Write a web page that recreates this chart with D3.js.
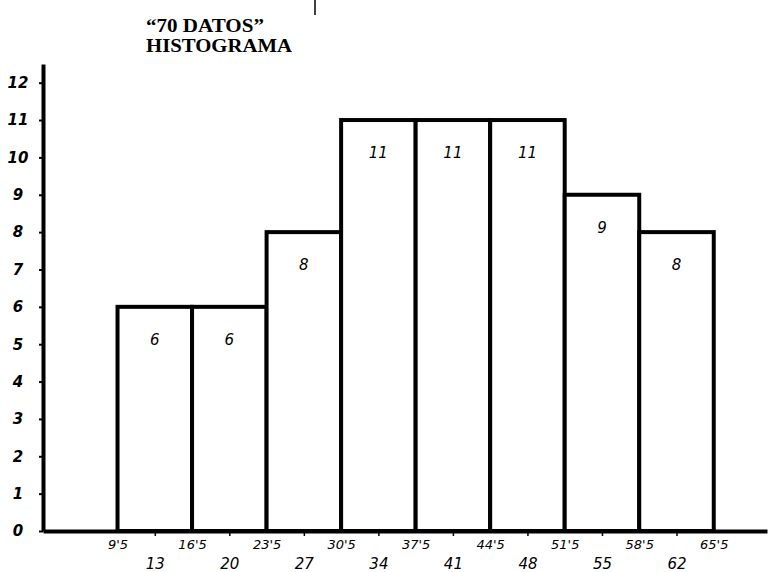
<!DOCTYPE html>
<html>
<head>
<meta charset="utf-8">
<script src="https://cdn.jsdelivr.net/npm/d3@7"></script>
<style>
  html, body { margin: 0; padding: 0; background: #fff; }
  svg { display: block; }
  .hand { font-family: "DejaVu Sans", sans-serif; font-style: italic; fill: #000; }
  .title { font-family: "Liberation Serif", "DejaVu Serif", "Times New Roman", serif; font-weight: bold; font-size: 19px; fill: #000; }
</style>
</head>
<body>
<svg id="chart" width="768" height="572"></svg>
<script>
// ---- data ----
const titleLines = ["\u201c70 DATOS\u201d", "HISTOGRAMA"];
const lowerBounds = [9.5, 16.5, 23.5, 30.5, 37.5, 44.5, 51.5, 58.5];
const upperBounds = [16.5, 23.5, 30.5, 37.5, 44.5, 51.5, 58.5, 65.5];
const frequencies = [6, 6, 8, 11, 11, 11, 9, 8];
const classMarks = [13, 20, 27, 34, 41, 48, 55, 62];
const boundaries = [9.5, 16.5, 23.5, 30.5, 37.5, 44.5, 51.5, 58.5, 65.5];
const boundaryLabels = ["9'5", "16'5", "23'5", "30'5", "37'5", "44'5", "51'5", "58'5", "65'5"];
const yTicks = [0, 1, 2, 3, 4, 5, 6, 7, 8, 9, 10, 11, 12];

const svg = d3.select("#chart");

const x = d3.scaleLinear().domain([2.5, 70.5]).range([43, 767]);
const y = d3.scaleLinear().domain([0, 12.5]).range([531, 64]);

// title
svg.selectAll("text.title").data(titleLines).enter().append("text")
  .attr("class", "title")
  .attr("x", 146).attr("y", (d, i) => 32 + i * 20)
  .attr("textLength", (d, i) => i === 0 ? 118 : 146)
  .attr("lengthAdjust", "spacingAndGlyphs")
  .text(d => d);

// stray mark at top
svg.append("line").attr("x1", 315).attr("x2", 315).attr("y1", 0).attr("y2", 15)
  .attr("stroke", "#000").attr("stroke-width", 1.5);

// bars
const bins = frequencies.map((f, i) => ({ lo: lowerBounds[i], hi: upperBounds[i], f }));
svg.selectAll("rect.bar").data(bins).enter().append("rect")
  .attr("class", "bar")
  .attr("x", d => x(d.lo)).attr("width", d => x(d.hi) - x(d.lo))
  .attr("y", d => y(d.f)).attr("height", d => y(0) - y(d.f))
  .attr("fill", "#fff").attr("stroke", "#000").attr("stroke-width", 4);

svg.selectAll("text.val").data(bins).enter().append("text")
  .attr("class", "hand val")
  .attr("x", d => x((d.lo + d.hi) / 2)).attr("y", d => y(d.f) + 38)
  .attr("text-anchor", "middle").style("font-size", "15px")
  .text(d => d.f);

// y axis
const yAxis = d3.axisLeft(y).tickValues(yTicks).tickSize(4).tickSizeOuter(0).tickPadding(14);
const gy = svg.append("g").attr("transform", `translate(${x(2.5)},0)`).call(yAxis);
gy.select(".domain").attr("stroke-width", 4);
gy.selectAll(".tick line").attr("stroke-width", 2);
gy.selectAll(".tick text").attr("class", "hand").style("font-size", "15px")
  .attr("font-weight", "bold").attr("text-anchor", "middle").attr("dx", -7);

// x axis: class marks
const xAxis = d3.axisBottom(x).tickValues(classMarks).tickSize(5).tickSizeOuter(0)
  .tickPadding(22).tickFormat(d => d);
const gx = svg.append("g").attr("transform", `translate(0,${y(0)})`).call(xAxis);
gx.select(".domain").attr("stroke-width", 4);
gx.selectAll(".tick line").attr("stroke-width", 1.5);
gx.selectAll(".tick text").attr("class", "hand").style("font-size", "15px");

// x axis: boundaries
const xAxisB = d3.axisBottom(x).tickValues(boundaries).tickSize(0).tickSizeOuter(0)
  .tickPadding(9).tickFormat((d, i) => boundaryLabels[i]);
const gb = svg.append("g").attr("transform", `translate(0,${y(0)})`).call(xAxisB);
gb.select(".domain").remove();
gb.selectAll(".tick text").attr("class", "hand").style("font-size", "13px");
</script>
</body>
</html>
